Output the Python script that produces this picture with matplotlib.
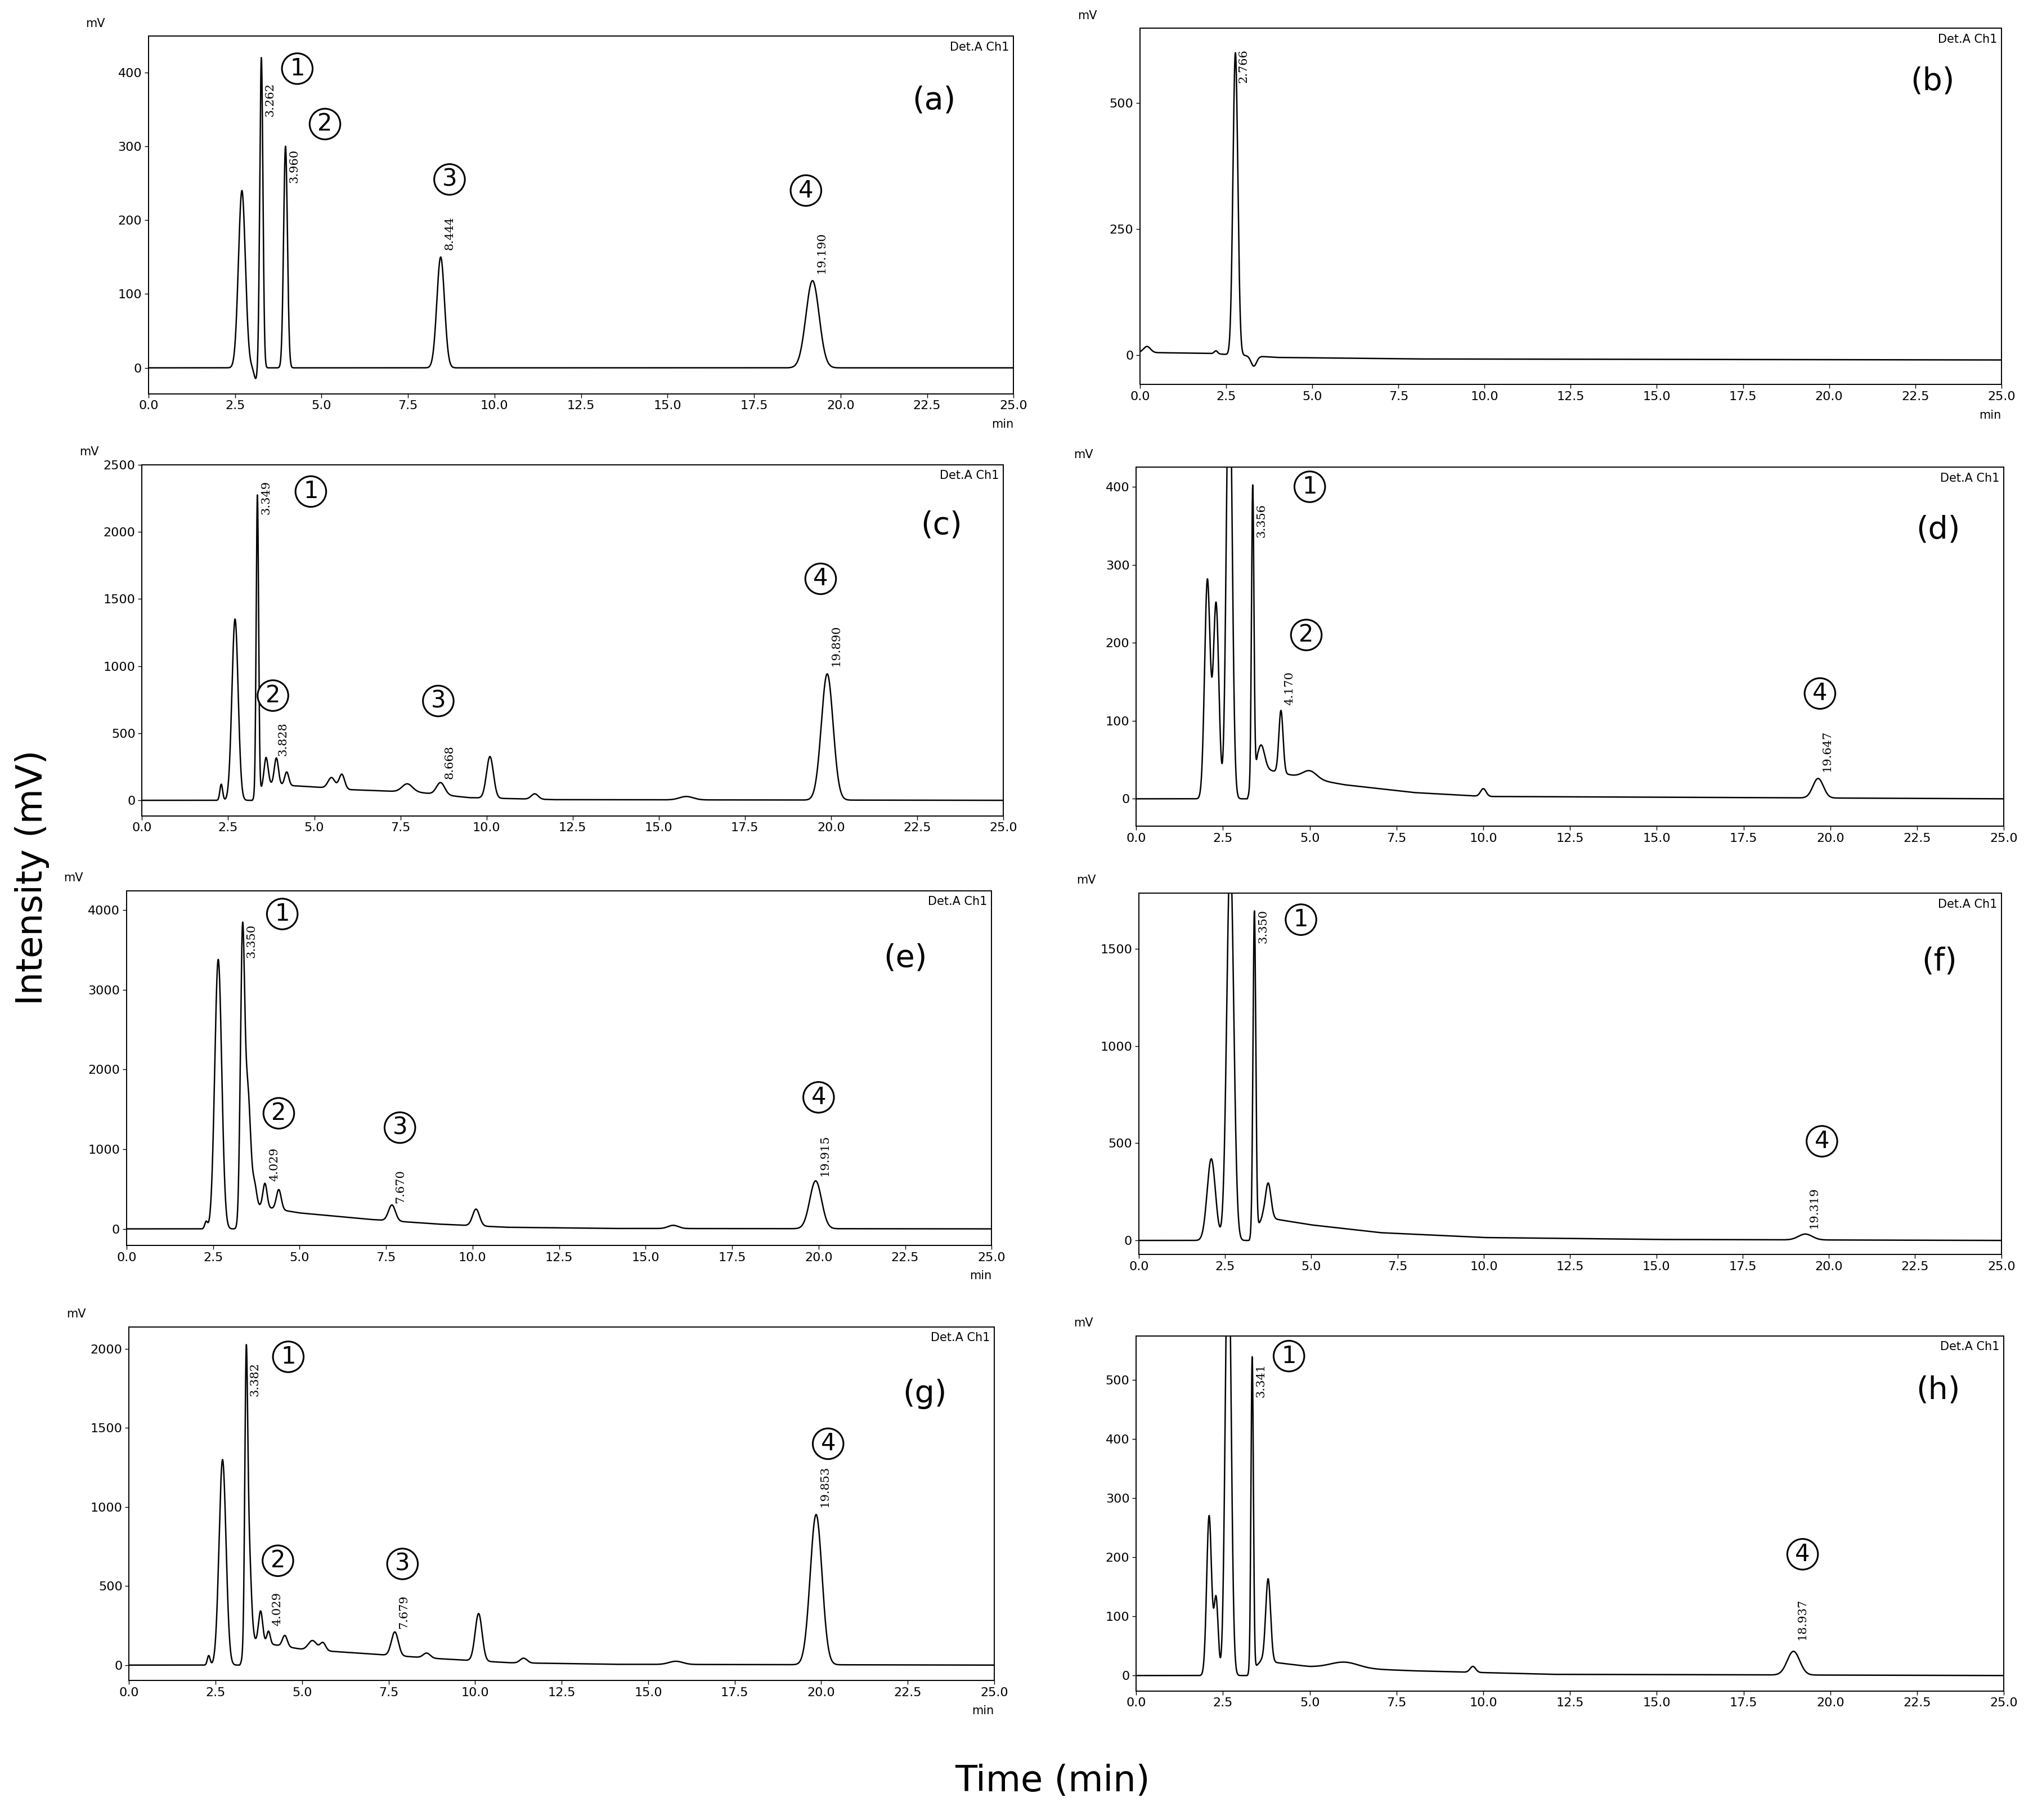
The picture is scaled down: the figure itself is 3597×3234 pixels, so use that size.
import numpy as np
import matplotlib
matplotlib.use("Agg")
import matplotlib.pyplot as plt

W, H = 1568.0, 1410.0
fig = plt.figure(figsize=(35.98, 32.34), dpi=100)

# panel boxes in reference display coords: left, right, top, bottom
boxes = {
    "a": (115, 785, 28, 305), "b": (883, 1550, 22, 298),
    "c": (110, 777, 360, 632), "d": (880, 1552, 362, 640),
    "e": (98, 768, 690, 965), "f": (882, 1550, 692, 972),
    "g": (100, 770, 1028, 1302), "h": (880, 1552, 1035, 1310),
}
ylims = {"a": (-35, 449), "b": (-59, 648), "c": (-115, 2500), "d": (-35, 425),
         "e": (-210, 4243), "f": (-73, 1786), "g": (-98, 2139), "h": (-26, 574)}
yticks = {"a": [0, 100, 200, 300, 400], "b": [0, 250, 500], "c": [0, 500, 1000, 1500, 2000, 2500],
          "d": [0, 100, 200, 300, 400], "e": [0, 1000, 2000, 3000, 4000], "f": [0, 500, 1000, 1500],
          "g": [0, 500, 1000, 1500, 2000], "h": [0, 100, 200, 300, 400, 500]}

# peaks: (retention time, height, sigma)
peaks = {
    "a": [(2.7, 240, 0.10), (3.262, 420, 0.045), (3.96, 300, 0.055), (3.1, -15, 0.05),
          (8.444, 150, 0.11), (19.19, 118, 0.19)],
    "b": [(0.2, 12, 0.1), (2.766, 600, 0.07), (3.3, -20, 0.08), (2.2, 6, 0.05)],
    "c": [(2.3, 120, 0.04), (2.7, 1350, 0.09), (3.349, 2230, 0.035), (3.6, 200, 0.06), (3.9, 200, 0.06),
          (4.2, 100, 0.06), (5.5, 80, 0.1), (5.8, 110, 0.08), (7.7, 60, 0.15), (8.668, 90, 0.12),
          (10.1, 310, 0.1), (11.4, 40, 0.1), (15.8, 25, 0.2), (19.89, 940, 0.17)],
    "d": [(2.05, 280, 0.08), (2.3, 250, 0.08), (2.68, 600, 0.08), (3.356, 380, 0.035),
          (3.6, 30, 0.1), (4.17, 80, 0.06), (5.0, 10, 0.2), (10.0, 10, 0.08), (19.647, 25, 0.15)],
    "e": [(2.3, 90, 0.04), (2.65, 3380, 0.1), (3.35, 3450, 0.06), (3.5, 1500, 0.08),
          (3.7, 250, 0.06), (4.0, 300, 0.06), (4.4, 250, 0.07), (7.67, 200, 0.1),
          (10.1, 210, 0.1), (15.8, 40, 0.15), (19.915, 600, 0.17)],
    "f": [(2.1, 420, 0.12), (2.65, 2000, 0.1), (3.35, 1650, 0.04), (3.75, 180, 0.08), (19.319, 30, 0.2)],
    "g": [(2.3, 60, 0.04), (2.7, 1300, 0.1), (3.382, 1500, 0.04), (3.45, 700, 0.07), (3.8, 200, 0.06),
          (4.029, 80, 0.05), (4.5, 70, 0.07), (5.3, 60, 0.12), (5.6, 50, 0.08), (7.679, 150, 0.1),
          (8.6, 30, 0.1), (10.1, 300, 0.1), (11.4, 30, 0.1), (15.8, 20, 0.2), (19.853, 950, 0.17)],
    "h": [(2.1, 270, 0.07), (2.3, 130, 0.06), (2.65, 800, 0.08), (3.341, 530, 0.035),
          (3.8, 140, 0.07), (6.0, 10, 0.4), (9.7, 10, 0.08), (18.937, 40, 0.18)],
}
# slowly varying baseline: (time, value)
baselines = {
    "a": [(0, 0), (25, 0)],
    "b": [(0, 5), (2.0, 3), (4, -5), (8, -8), (25, -10)],
    "c": [(0, 0), (3.2, 0), (3.6, 120), (5, 100), (6, 80), (8, 60), (9.5, 20), (12, 5), (25, 0)],
    "d": [(0, 0), (3.2, 0), (3.5, 40), (4.5, 30), (6, 18), (8, 8), (10, 3), (25, 0)],
    "e": [(0, 0), (3.2, 0), (3.6, 300), (5, 200), (7, 120), (9, 60), (11, 20), (14, 5), (25, 0)],
    "f": [(0, 0), (3.2, 0), (3.6, 120), (5, 80), (7, 40), (10, 15), (15, 5), (25, 0)],
    "g": [(0, 0), (3.2, 0), (3.6, 150), (5, 100), (7, 70), (9, 40), (11, 15), (14, 5), (25, 0)],
    "h": [(0, 0), (3.2, 0), (3.6, 25), (5, 15), (8, 8), (12, 2), (25, 0)],
}
# retention-time labels: (x, y, text)
rt_labels = {
    "a": [(3.35, 340, "3.262"), (4.05, 250, "3.960"), (8.55, 160, "8.444"), (19.3, 128, "19.190")],
    "b": [(2.85, 540, "2.766")],
    "c": [(3.45, 2130, "3.349"), (3.93, 330, "3.828"), (8.77, 160, "8.668"), (20.0, 1000, "19.890")],
    "d": [(3.46, 335, "3.356"), (4.27, 120, "4.170"), (19.75, 35, "19.647")],
    "e": [(3.45, 3400, "3.350"), (4.13, 600, "4.029"), (7.77, 320, "7.670"), (20.02, 660, "19.915")],
    "f": [(3.45, 1530, "3.350"), (19.42, 60, "19.319")],
    "g": [(3.48, 1700, "3.382"), (4.13, 250, "4.029"), (7.78, 230, "7.679"), (19.95, 1000, "19.853")],
    "h": [(3.44, 470, "3.341"), (19.04, 60, "18.937")],
}
circles = {
    "a": [(4.3, 405, "1"), (5.1, 330, "2"), (8.7, 255, "3"), (19.0, 240, "4")],
    "b": [],
    "c": [(4.9, 2300, "1"), (3.8, 780, "2"), (8.6, 740, "3"), (19.7, 1650, "4")],
    "d": [(5.0, 400, "1"), (4.9, 210, "2"), (19.7, 135, "4")],
    "e": [(4.5, 3950, "1"), (4.4, 1450, "2"), (7.9, 1270, "3"), (20.0, 1650, "4")],
    "f": [(4.7, 1650, "1"), (19.8, 510, "4")],
    "g": [(4.6, 1950, "1"), (4.3, 660, "2"), (7.9, 640, "3"), (20.2, 1400, "4")],
    "h": [(4.4, 540, "1"), (19.2, 205, "4")],
}
panel_labels = {"a": (22.7, 362), "b": (23.0, 543), "c": (23.2, 2048), "d": (23.1, 345),
                "e": (22.5, 3400), "f": (23.2, 1434), "g": (23.0, 1714), "h": (23.1, 482)}
xticks = [0, 2.5, 5, 7.5, 10, 12.5, 15, 17.5, 20, 22.5, 25]

t = np.linspace(0, 25, 20001)
for key, (l, r, tp, bt) in boxes.items():
    ax = fig.add_axes([l / W, 1 - bt / H, (r - l) / W, (bt - tp) / H])
    bx, bv = zip(*baselines[key])
    y = np.interp(t, bx, bv)
    for (c, h, s) in peaks[key]:
        y = y + h * np.exp(-0.5 * ((t - c) / s) ** 2)
    ax.plot(t, y, color="black", lw=1.8)
    ax.set_xlim(0, 25)
    ax.set_ylim(*ylims[key])
    ax.set_xticks(xticks)
    ax.set_xticklabels([f"{v:.1f}" for v in xticks])
    ax.set_yticks(yticks[key])
    ax.tick_params(labelsize=16, length=5, width=1)
    for sp in ax.spines.values():
        sp.set_linewidth(1.4)
    ax.text(0.995, 0.985, "Det.A Ch1", transform=ax.transAxes, ha="right", va="top", fontsize=15)
    ax.text(-0.05, 1.02, "mV", transform=ax.transAxes, ha="right", va="bottom", fontsize=15)
    if key in ("a", "b", "e", "g"):
        ax.text(1.0, -0.07, "min", transform=ax.transAxes, ha="right", va="top", fontsize=15)
    for (x, yy, s) in rt_labels[key]:
        ax.text(x, yy, s, rotation=90, ha="left", va="bottom", fontsize=15, family="DejaVu Serif")
    for (x, yy, s) in circles[key]:
        ax.text(x, yy, s, ha="center", va="center", fontsize=30,
                bbox=dict(boxstyle="circle,pad=0.15", fc="white", ec="black", lw=2.2))
    px, py = panel_labels[key]
    ax.text(px, py, f"({key})", ha="center", va="center", fontsize=40)

fig.text(25 / W, 1 - 680 / H, "Intensity (mV)", rotation=90, ha="center", va="center", fontsize=46)
fig.text(815 / W, 1 - 1380 / H, "Time (min)", ha="center", va="center", fontsize=46)
fig.savefig("out.png", dpi=100, facecolor="white")
